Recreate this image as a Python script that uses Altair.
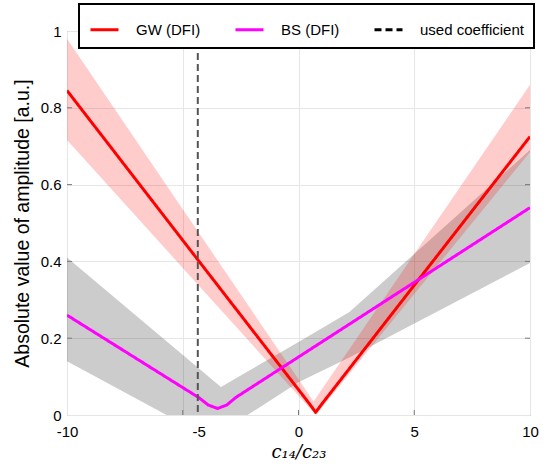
import altair as alt
import pandas as pd

# ---- data ----
series_names = ["GW (DFI)", "BS (DFI)", "used coefficient"]

gw_x = [-10, -5, 0, 0.5, 0.74, 1.0, 5, 10]
gw_y = [0.845, 0.455, 0.066, 0.027, 0.007, 0.028, 0.338, 0.725]

gw_band_x = [-10, -5, 0, 0.65, 0.75, 1.5, 5, 10]
gw_band_hi = [0.98, 0.536, 0.093, 0.035, 0.044, 0.11, 0.419, 0.86]
gw_band_lo = [0.716, 0.383, 0.05, 0.007, 0.0, 0.056, 0.315, 0.685]

bs_x = [-10, -4.3, -3.9, -3.5, -3.1, -2.7, 10]
bs_y = [0.26, 0.045, 0.026, 0.017, 0.026, 0.046, 0.54]

bs_band_x = [-10, -5.7, -3.35, -2.2, 0, 2.2, 10]
bs_band_hi = [0.41, 0.192, 0.073, 0.113, 0.19, 0.268, 0.69]
bs_band_lo = [0.14, 0.0, 0.0, 0.0, 0.085, 0.15, 0.396]

used_coefficient = [-4.35]

x_ticks = [-10, -5, 0, 5, 10]
y_ticks = [0, 0.2, 0.4, 0.6, 0.8, 1]
x_inner_ticks = [-5, 0, 5]
y_inner_ticks = [0.2, 0.4, 0.6, 0.8]

# ---- tables ----
lines_df = pd.concat([
    pd.DataFrame({"x": gw_x, "y": gw_y, "series": series_names[0]}),
    pd.DataFrame({"x": bs_x, "y": bs_y, "series": series_names[1]}),
])
gw_band_df = pd.DataFrame({"x": gw_band_x, "hi": gw_band_hi, "lo": gw_band_lo})
bs_band_df = pd.DataFrame({"x": bs_band_x, "hi": bs_band_hi, "lo": bs_band_lo})
used_df = pd.DataFrame({"x": used_coefficient, "series": [series_names[2]]})
xt_df = pd.DataFrame({"x": x_inner_ticks})
yt_df = pd.DataFrame({"y": y_inner_ticks})

FONT = "Liberation Sans"
W, H = 463, 384

xscale = alt.Scale(domain=[-10, 10], nice=False, zero=False)
yscale = alt.Scale(domain=[0, 1], nice=False, zero=False)

color_scale = alt.Scale(domain=series_names, range=["#ff0000", "#ff00ff", "#000000"])
dash_scale = alt.Scale(domain=series_names, range=[[1, 0], [1, 0], [7, 4]])

x_axis = alt.Axis(
    values=x_ticks,
    title="c₁₄/c₂₃",
    titleFont="DejaVu Serif",
    titleFontStyle="italic",
    titleFontWeight="normal",
    titleFontSize=18,
    titleColor="#000000",
    titleY=37,
    titleBaseline="middle",
    labelFont=FONT,
    labelFontSize=15,
    labelColor="#000000",
    labelPadding=9,
    labelFlush=False,
    labelExpr="datum.value < 0 ? '-' + abs(datum.value) : '' + datum.value",
    labelOffset={"condition": {"test": "datum.value == -5", "value": 16}, "value": 0},
    ticks=False,
    domain=False,
    grid=True,
    gridColor="#e6e6e6",
    gridWidth=1,
)
y_axis = alt.Axis(
    values=y_ticks,
    title="Absolute value of amplitude [a.u.]",
    titleFont=FONT,
    titleFontSize=19.5,
    titleFontWeight="normal",
    titleColor="#000000",
    titleX=-45,
    titleY=192,
    titleBaseline="middle",
    labelFont=FONT,
    labelFontSize=15,
    labelColor="#000000",
    labelPadding=6,
    labelFlush=False,
    labelExpr="format(datum.value, '.1~f')",
    ticks=False,
    domain=False,
    grid=True,
    gridColor="#e6e6e6",
    gridWidth=1,
)

bs_band = alt.Chart(bs_band_df).mark_area(color="#000000", opacity=0.2, clip=True).encode(
    x=alt.X("x:Q", scale=xscale, axis=x_axis),
    y=alt.Y("hi:Q", scale=yscale, axis=y_axis),
    y2="lo:Q",
)
gw_band = alt.Chart(gw_band_df).mark_area(color="#ff0000", opacity=0.2, clip=True).encode(
    x=alt.X("x:Q", scale=xscale),
    y=alt.Y("hi:Q", scale=yscale),
    y2="lo:Q",
)

legend = alt.Legend(title=None)

lines = alt.Chart(lines_df).mark_line(strokeWidth=3, strokeJoin="round", clip=True).encode(
    x=alt.X("x:Q", scale=xscale),
    y=alt.Y("y:Q", scale=yscale),
    color=alt.Color("series:N", scale=color_scale, legend=legend, sort=series_names),
    strokeDash=alt.StrokeDash("series:N", scale=dash_scale, legend=legend, sort=series_names),
    order=alt.Order("x:Q"),
)

used = alt.Chart(used_df).mark_rule(strokeWidth=2).encode(
    x=alt.X("x:Q", scale=xscale),
    color=alt.value("#555555"),
    strokeDash=alt.StrokeDash("series:N", scale=dash_scale, legend=legend, sort=series_names),
)

tick_color = "#7a7a7a"
xt_bottom = alt.Chart(xt_df).mark_rule(color=tick_color, strokeWidth=1).encode(
    x=alt.X("x:Q", scale=xscale), y=alt.value(H), y2=alt.value(H - 5)
)
xt_top = alt.Chart(xt_df).mark_rule(color=tick_color, strokeWidth=1).encode(
    x=alt.X("x:Q", scale=xscale), y=alt.value(0), y2=alt.value(5)
)
yt_left = alt.Chart(yt_df).mark_rule(color=tick_color, strokeWidth=1).encode(
    y=alt.Y("y:Q", scale=yscale), x=alt.value(0), x2=alt.value(5)
)
yt_right = alt.Chart(yt_df).mark_rule(color=tick_color, strokeWidth=1).encode(
    y=alt.Y("y:Q", scale=yscale), x=alt.value(W), x2=alt.value(W - 5)
)

chart = alt.layer(
    bs_band, gw_band, xt_bottom, xt_top, yt_left, yt_right, lines, used
).resolve_scale(
    color="shared", strokeDash="shared"
).properties(
    width=W,
    height=H,
    autosize=alt.AutoSizeParams(type="none"),
    padding={"left": 67, "top": 31, "right": 24, "bottom": 49},
    background="#ffffff",
).configure_view(
    stroke="#8c8c8c", strokeWidth=1
).configure_legend(
    orient="none",
    legendX=12,
    legendY=-27,
    direction="horizontal",
    fillColor="#ffffff",
    strokeColor="#000000",
    strokeWidth=2,
    padding=10,
    symbolType="stroke",
    symbolSize=784,
    symbolStrokeWidth=3,
    labelFont=FONT,
    labelFontSize=15,
    labelColor="#000000",
    labelOffset=16,
    columnPadding=28,
)

chart.save("out.html", embed_options={"renderer": "svg", "actions": False})
